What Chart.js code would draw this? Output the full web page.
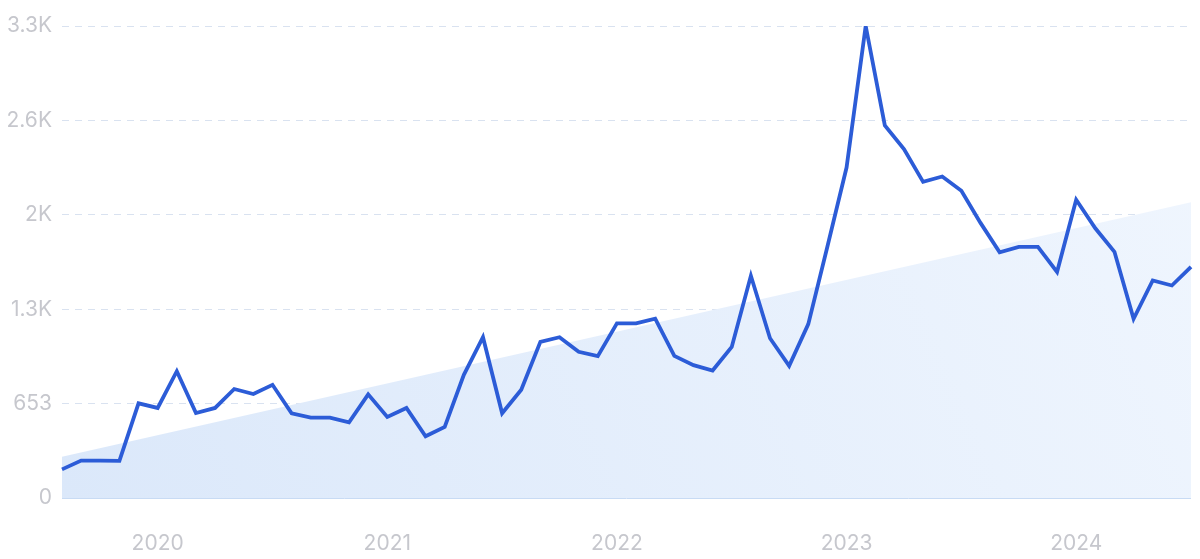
<!DOCTYPE html>
<html>
<head>
<meta charset="utf-8">
<script src="https://cdn.jsdelivr.net/npm/chart.js@4"></script>
<style>
  html, body { margin: 0; padding: 0; background: #ffffff; }
  #wrap { width: 1200px; height: 559px; }
</style>
</head>
<body>
<div id="wrap"><canvas id="trendChart" width="1200" height="559"></canvas></div>
<script>
/* --------------- Months (Aug 2019 - Jul 2024) --------------------- */
const months = [
  "2019-08", "2019-09", "2019-10", "2019-11", "2019-12",
  "2020-01", "2020-02", "2020-03", "2020-04", "2020-05", "2020-06", "2020-07", "2020-08", "2020-09", "2020-10", "2020-11", "2020-12",
  "2021-01", "2021-02", "2021-03", "2021-04", "2021-05", "2021-06", "2021-07", "2021-08", "2021-09", "2021-10", "2021-11", "2021-12",
  "2022-01", "2022-02", "2022-03", "2022-04", "2022-05", "2022-06", "2022-07", "2022-08", "2022-09", "2022-10", "2022-11", "2022-12",
  "2023-01", "2023-02", "2023-03", "2023-04", "2023-05", "2023-06", "2023-07", "2023-08", "2023-09", "2023-10", "2023-11", "2023-12",
  "2024-01", "2024-02", "2024-03", "2024-04", "2024-05", "2024-06", "2024-07",
];
/* --------------- Search volume per month --------------------- */
const volume = [
  198, 259, 259, 257, 655,
  623, 877, 588, 623, 754, 719, 783, 586, 556, 556, 524, 717,
  561, 623, 427, 492, 852, 1112, 586, 749, 1080, 1112, 1011, 981,
  1208, 1208, 1240, 983, 919, 882, 1045, 1537, 1105, 914, 1203, 1740,
  2286, 3265, 2577, 2414, 2187, 2224, 2125, 1903, 1700, 1737, 1737, 1564,
  2063, 1866, 1703, 1240, 1505, 1470, 1599,
];
/* --------------- Trend line (start / end) --------------------- */
const trendStart = 286;
const trendEnd = 2045;
/* --------------- Y axis ticks --------------------- */
const yTicks = [0, 653, 1306, 1959, 2612, 3265];
const yTickLabels = ["0", "653", "1.3K", "2K", "2.6K", "3.3K"];

const tickFont = { family: "Inter, 'Open Sans', sans-serif", size: 21 };
const tickColor = "#c6c7cd";

const trendFill = (context) => {
  const { ctx, chartArea } = context.chart;
  if (!chartArea) return "rgba(220,233,250,1)";
  const g = ctx.createLinearGradient(chartArea.left, chartArea.bottom, chartArea.right, chartArea.top);
  g.addColorStop(0, "#dbe8fa");
  g.addColorStop(1, "#f0f6fe");
  return g;
};

new Chart(document.getElementById("trendChart"), {
  type: "line",
  data: {
    labels: months,
    datasets: [
      {
        data: volume,
        borderColor: "#2c5cd7",
        borderWidth: 3.8,
        pointRadius: 0,
        tension: 0,
        fill: false,
        order: 0,
      },
      {
        data: [
          { x: months[0], y: trendStart },
          { x: months[months.length - 1], y: trendEnd },
        ],
        borderWidth: 0,
        borderColor: "rgba(0,0,0,0)",
        backgroundColor: trendFill,
        pointRadius: 0,
        fill: "origin",
        order: 1,
      },
    ],
  },
  options: {
    responsive: false,
    animation: false,
    layout: { padding: { top: 26, right: 9, left: 0, bottom: 0 } },
    plugins: {
      legend: { display: false },
      tooltip: { enabled: false },
    },
    scales: {
      x: {
        // invisible tick marks push the year labels down without widening the side padding
        grid: { display: true, drawOnChartArea: false, drawTicks: true, tickLength: 33, color: "rgba(0,0,0,0)" },
        border: { display: false },
        ticks: {
          autoSkip: false,
          maxRotation: 0,
          padding: 0,
          color: tickColor,
          font: tickFont,
          callback: (val, i) => (months[i].endsWith("-01") ? months[i].slice(0, 4) : ""),
        },
        afterFit: (scale) => { scale.height = 61; },
      },
      y: {
        min: 0,
        max: 3265,
        afterBuildTicks: (scale) => { scale.ticks = yTicks.map((v) => ({ value: v })); },
        grid: {
          drawTicks: false,
          lineWidth: 1,
          color: (ctx) => (ctx.tick && ctx.tick.value === 0 ? "#c8dbf4" : "#d9e2f0"),
        },
        border: {
          display: false,
          dash: (ctx) => (ctx.tick && ctx.tick.value === 0 ? [] : [7, 6]),
        },
        ticks: {
          padding: 10,
          color: tickColor,
          font: tickFont,
          callback: (val, i) => yTickLabels[i],
        },
        afterFit: (scale) => { scale.width = 62; },
      },
    },
  },
});
</script>
</body>
</html>
